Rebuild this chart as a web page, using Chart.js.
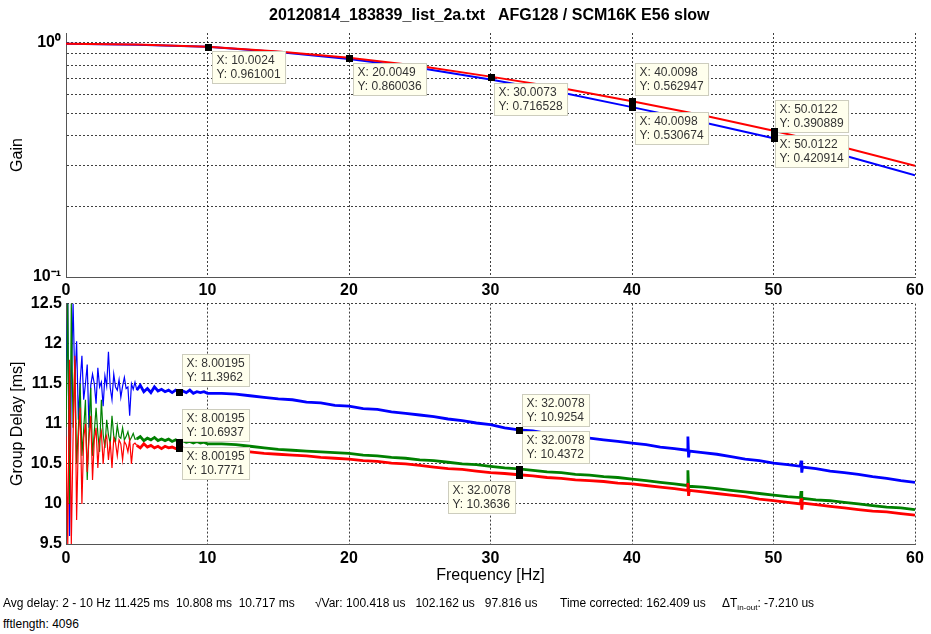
<!DOCTYPE html>
<html>
<head>
<meta charset="utf-8">
<script src="https://cdn.jsdelivr.net/npm/chart.js"></script>
<style>
  body { margin: 0; background: #fff; width: 931px; height: 634px; overflow: hidden; position: relative; font-family: "Liberation Sans", Arial, sans-serif; }
  canvas { position: absolute; left: 0; }
  #title { position: absolute; left: 269px; top: 6px; font-weight: bold; font-size: 16px; white-space: pre; z-index: 2; }
  .foot { position: absolute; font-family: "Liberation Sans Narrow", "Liberation Sans", Arial, sans-serif; font-size: 12px; white-space: pre; color: #000; }
  .foot sub { font-size: 8px; }
</style>
</head>
<body>
<div id="title">20120814_183839_list_2a.txt   AFG128 / SCM16K E56 slow</div>
<canvas id="gainChart" width="931" height="300" style="top:0"></canvas>
<canvas id="delayChart" width="931" height="310" style="top:290px"></canvas>
<div class="foot" style="left:3px; top:596px">Avg delay: 2 - 10 Hz 11.425 ms  10.808 ms  10.717 ms</div>
<div class="foot" style="left:315px; top:596px">√Var: 100.418 us   102.162 us   97.816 us</div>
<div class="foot" style="left:560px; top:596px">Time corrected: 162.409 us</div>
<div class="foot" style="left:722px; top:596px">ΔT<sub>in-out</sub>: -7.210 us</div>
<div class="foot" style="left:3px; top:617px">fftlength: 4096</div>
<script>
// gain (top plot)
const gainFreq = [0, 5, 10, 15, 20, 25, 30, 35, 40, 45, 50, 55, 60];
const gainRed  = [0.99, 0.982, 0.961, 0.918, 0.862, 0.795, 0.7165, 0.64, 0.563, 0.49, 0.421, 0.357, 0.298];
const gainBlue = [0.99, 0.981, 0.961, 0.913, 0.852, 0.779, 0.697, 0.613, 0.531, 0.458, 0.391, 0.330, 0.272];

// group delay (bottom plot)
const delayFreq = [
  0, 0.125, 0.25, 0.375, 0.5, 0.625, 0.75, 0.875,
  1, 1.125, 1.25, 1.375, 1.5, 1.625, 1.75, 1.875,
  2, 2.125, 2.25, 2.375, 2.5, 2.625, 2.75, 2.875,
  3, 3.125, 3.25, 3.375, 3.5, 3.625, 3.75, 3.875,
  4, 4.125, 4.25, 4.375, 4.5, 4.625, 4.75, 4.875,
  5, 5.25, 5.5, 5.75, 6, 6.25, 6.5, 6.75, 7, 7.25, 7.5, 7.75, 8, 8.25, 8.5, 8.75, 9, 9.25, 9.5, 9.75, 10,
  11, 12, 13, 14, 15, 16, 17, 18, 19, 20, 21, 22, 23, 24, 25, 26, 27, 28, 29, 30,
  31, 32, 33, 34, 35, 36, 37, 38, 39, 40, 41, 42, 43, 43.9, 43.95, 44, 44.05,
  45, 46, 47, 48, 49, 50, 51, 51.9, 51.95, 52, 52.05, 53, 54, 55, 56, 57, 58, 59, 60
];
const delayBlue = [
  11.54, 12.5, 9.6, 11.55, 12.5, 11.5, 12.03, 11.05,
  11.52, 11.85, 11.3, 11.5, 11.74, 10.95, 11.48, 11.62,
  11.5, 11.25, 11.7, 11.46, 11.52, 11.22, 11.6, 11.47,
  11.9, 11.45, 11.3, 11.62, 11.46, 11.42, 11.55, 11.33,
  11.47, 11.58, 11.44, 11.46, 11.1, 11.5, 11.43, 11.52,
  11.42, 11.48, 11.40, 11.44, 11.39, 11.46, 11.41, 11.43, 11.40, 11.42, 11.39, 11.42, 11.396, 11.41, 11.39, 11.42, 11.38, 11.40, 11.39, 11.40, 11.38,
  11.38, 11.37, 11.35, 11.33, 11.31, 11.30, 11.27, 11.26, 11.23, 11.22,
  11.19, 11.18, 11.15, 11.13, 11.11, 11.09, 11.06, 11.04, 11.01, 10.99,
  10.95, 10.925, 10.91, 10.88, 10.86, 10.84, 10.82, 10.80, 10.78, 10.76,
  10.74, 10.71, 10.69, 10.67, 10.84, 10.58, 10.66,
  10.64, 10.62, 10.59, 10.56, 10.54, 10.51, 10.49, 10.47, 10.54, 10.39, 10.46,
  10.44, 10.41, 10.39, 10.37, 10.34, 10.32, 10.29, 10.27
];
const delayGreen = [
  10.96, 12.5, 10.0, 12.5, 10.95, 11.8, 10.5, 10.94,
  11.5, 10.6, 10.93, 11.3, 10.3, 10.92, 11.45, 10.6,
  10.9, 11.2, 10.88, 10.65, 11.3, 10.87, 10.7, 11.05,
  10.86, 10.75, 11.1, 10.85, 10.78, 10.98, 10.84, 10.82,
  10.95, 10.8, 10.84, 10.9, 10.79, 10.83, 10.88, 10.81,
  10.81, 10.84, 10.79, 10.82, 10.80, 10.83, 10.79, 10.81, 10.79, 10.81, 10.78, 10.80, 10.777, 10.79, 10.77, 10.78, 10.76, 10.78, 10.76, 10.77, 10.75,
  10.75, 10.74, 10.72, 10.70, 10.68, 10.67, 10.66, 10.65, 10.64, 10.63,
  10.61, 10.60, 10.58, 10.57, 10.55, 10.54, 10.52, 10.50, 10.49, 10.47,
  10.45, 10.437, 10.42, 10.40, 10.39, 10.37, 10.36, 10.34, 10.33, 10.31,
  10.29, 10.27, 10.25, 10.23, 10.42, 10.20, 10.22,
  10.21, 10.19, 10.17, 10.15, 10.13, 10.11, 10.09, 10.08, 10.16, 10.02, 10.07,
  10.05, 10.04, 10.02, 10.00, 9.98, 9.96, 9.95, 9.93
];
const delayRed = [
  10.84, 9.5, 11.8, 9.5, 10.84, 11.85, 9.8, 10.83,
  11.2, 10.0, 10.82, 11.0, 10.4, 10.81, 11.1, 10.3,
  10.8, 10.95, 10.45, 10.8, 10.9, 10.5, 10.79, 10.85,
  10.55, 10.78, 10.45, 10.82, 10.76, 10.6, 10.8, 10.75,
  10.55, 10.78, 10.74, 10.65, 10.8, 10.5, 10.74, 10.76,
  10.73, 10.70, 10.75, 10.71, 10.73, 10.70, 10.72, 10.69, 10.72, 10.70, 10.71, 10.69, 10.694, 10.70, 10.68, 10.69, 10.67, 10.69, 10.67, 10.68, 10.67,
  10.665, 10.66, 10.65, 10.63, 10.62, 10.61, 10.60, 10.58, 10.57, 10.56,
  10.54, 10.53, 10.51, 10.50, 10.48, 10.46, 10.44, 10.43, 10.41, 10.39,
  10.38, 10.364, 10.35, 10.33, 10.32, 10.30, 10.29, 10.28, 10.26, 10.25,
  10.23, 10.21, 10.19, 10.17, 10.26, 10.10, 10.17,
  10.15, 10.13, 10.11, 10.09, 10.06, 10.04, 10.02, 10.00, 10.07, 9.93, 10.01,
  9.99, 9.97, 9.95, 9.93, 9.91, 9.90, 9.88, 9.86
];

// data tips (values as shown in the picture)
const gainTipX = [10.0024, 20.0049, 30.0073, 40.0098, 40.0098, 50.0122, 50.0122];
const gainTipY = [0.961001, 0.860036, 0.716528, 0.562947, 0.530674, 0.390889, 0.420914];
const delayTipX = ['8.00195', '8.00195', '8.00195', '32.0078', '32.0078', '32.0078'];
const delayTipY = [11.3962, 10.6937, 10.7771, 10.9254, 10.4372, 10.3636];

// box offsets from the marker, px
const gainTipOffset = [[4, 4], [4, 5], [3, 6], [3, -38], [3, 5], [1, -38], [1, 4]];
const delayTipOffset = [[3, -38], [3, -39], [3, 5], [3, -36], [3, -38], [-71, 6]];

const gainTicks = [0.1, 0.2, 0.3, 0.4, 0.5, 0.6, 0.7, 0.8, 0.9, 1];

const tickFont = { family: 'Liberation Sans', size: 16, weight: 'bold' };
const titleFont = { family: 'Liberation Sans', size: 16 };
const gridStyle = { color: 'rgba(0,0,0,0.75)', lineWidth: 1, drawTicks: false };
const borderStyle = { display: true, color: '#555', width: 1, dash: [2, 2] };

const xy = (xs, ys) => xs.map((x, i) => ({ x: Number(x), y: ys[i] }));

const datatips = {
  id: 'datatips',
  afterDatasetsDraw(chart, args, opts) {
    const ctx = chart.ctx;
    const xs = chart.scales.x, ys = chart.scales.y;
    ctx.save();
    ctx.font = '12px "Liberation Sans", Arial, sans-serif';
    opts.xs.forEach((xv, i) => {
      const px = xs.getPixelForValue(Number(xv));
      const py = ys.getPixelForValue(opts.ys[i]);
      const lines = ['X: ' + xv, 'Y: ' + opts.ys[i]];
      const w = Math.max(...lines.map(t => ctx.measureText(t).width)) + 9;
      const h = 32;
      const bx = Math.round(px + opts.offsets[i][0]) + 0.5;
      const by = Math.round(py + opts.offsets[i][1]) + 0.5;
      ctx.fillStyle = 'rgb(255,255,237)';
      ctx.strokeStyle = 'rgb(205,205,190)';
      ctx.lineWidth = 1;
      ctx.fillRect(bx, by, w, h);
      ctx.strokeRect(bx, by, w, h);
      ctx.fillStyle = '#333';
      ctx.textBaseline = 'middle';
      ctx.fillText(lines[0], bx + 4, by + 9);
      ctx.fillText(lines[1], bx + 4, by + 23);
    });
    opts.xs.forEach((xv, i) => {
      const px = xs.getPixelForValue(Number(xv));
      const py = ys.getPixelForValue(opts.ys[i]);
      ctx.fillStyle = '#000';
      ctx.fillRect(Math.round(px) - 3, Math.round(py) - 3, 7, 7);
    });
    ctx.restore();
  }
};

new Chart(document.getElementById('gainChart'), {
  type: 'line',
  data: {
    datasets: [
      { data: xy(gainFreq, gainRed), borderColor: 'rgb(255,0,0)', borderWidth: 2 },
      { data: xy(gainFreq, gainBlue), borderColor: 'rgb(0,0,255)', borderWidth: 2 }
    ]
  },
  options: {
    responsive: false,
    animation: false,
    devicePixelRatio: 1,
    layout: { padding: { top: 33, right: 16, left: 0, bottom: 0 } },
    elements: { point: { radius: 0 }, line: { tension: 0 } },
    plugins: {
      legend: { display: false },
      tooltip: { enabled: false },
      datatips: { xs: gainTipX, ys: gainTipY, offsets: gainTipOffset }
    },
    scales: {
      x: {
        type: 'linear', min: 0, max: 60,
        ticks: { stepSize: 10, font: tickFont, color: '#000', padding: 4, maxRotation: 0 },
        grid: gridStyle, border: borderStyle,
        afterFit: s => { s.height = 23; }
      },
      y: {
        type: 'logarithmic', min: 0.1, max: 1.1,
        afterBuildTicks: s => { s.ticks = gainTicks.map(v => ({ value: v })); },
        ticks: {
          font: tickFont, color: '#000', padding: 5, autoSkip: false,
          callback: v => v === 0.1 ? '10\u207B\u00B9' : (v === 1 ? '10\u2070' : '')
        },
        grid: gridStyle, border: borderStyle,
        title: { display: true, text: 'Gain', font: titleFont, color: '#000', padding: { top: 8, bottom: 0 } },
        afterFit: s => { s.width = 66; }
      }
    }
  },
  plugins: [datatips]
});

const thin = c => (c.p0.parsed.x < 5 ? 1.2 : 2.8);

new Chart(document.getElementById('delayChart'), {
  type: 'line',
  data: {
    datasets: [
      { data: xy(delayFreq, delayRed), borderColor: 'rgb(255,0,0)', borderWidth: 2.8, segment: { borderWidth: thin } },
      { data: xy(delayFreq, delayGreen), borderColor: 'rgb(0,128,0)', borderWidth: 2.8, segment: { borderWidth: thin } },
      { data: xy(delayFreq, delayBlue), borderColor: 'rgb(0,0,255)', borderWidth: 2.8, segment: { borderWidth: thin } }
    ]
  },
  options: {
    responsive: false,
    animation: false,
    devicePixelRatio: 1,
    layout: { padding: { top: 10, right: 16, left: 0, bottom: 15 } },
    elements: { point: { radius: 0 }, line: { tension: 0 } },
    plugins: {
      legend: { display: false },
      tooltip: { enabled: false },
      datatips: { xs: delayTipX, ys: delayTipY, offsets: delayTipOffset }
    },
    scales: {
      x: {
        type: 'linear', min: 0, max: 60,
        ticks: { stepSize: 10, font: tickFont, color: '#000', padding: 5, maxRotation: 0 },
        grid: gridStyle, border: borderStyle,
        title: { display: true, text: 'Frequency [Hz]', font: titleFont, color: '#000', padding: { top: 2, bottom: 0 } },
        afterFit: s => { s.height = 41; }
      },
      y: {
        type: 'linear', min: 9.5, max: 12.5,
        ticks: {
          stepSize: 0.5, font: tickFont, color: '#000', padding: 4,
          callback: v => String(Math.round(v * 10) / 10)
        },
        grid: gridStyle, border: borderStyle,
        title: { display: true, text: 'Group Delay [ms]', font: titleFont, color: '#000', padding: { top: 8, bottom: 0 } },
        afterFit: s => { s.width = 66; }
      }
    }
  },
  plugins: [datatips]
});
</script>
</body>
</html>
